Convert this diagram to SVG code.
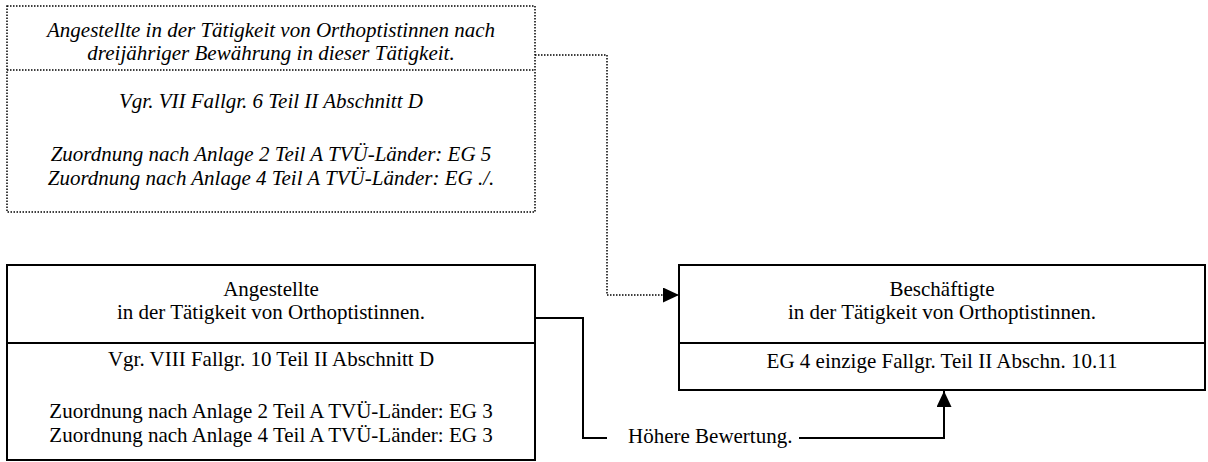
<svg xmlns="http://www.w3.org/2000/svg" width="1208" height="462" viewBox="0 0 1208 462">
<style>
text{font-family:"Liberation Serif","Times New Roman",serif;font-size:21px;fill:#000;text-anchor:middle}
.it{font-style:italic}
.box{fill:#fff;stroke:#000;stroke-width:2}
.dot{fill:none;stroke:#000;stroke-width:1.5;stroke-dasharray:1.5 1.5}
.ln{fill:none;stroke:#000;stroke-width:2}
</style>
<defs>
<marker id="ah" viewBox="0 0 16 15" refX="16" refY="7.5" markerWidth="16" markerHeight="15" markerUnits="userSpaceOnUse" orient="auto">
<path d="M0,0 L16,7.5 L0,15 Z" fill="#000"/>
</marker>
</defs>
<rect width="1208" height="462" fill="#fff"/>
<g id="node-dreijaehrig">
<rect x="7" y="6" width="528" height="206" class="dot"/>
<line x1="7" y1="70" x2="535" y2="70" class="dot"/>
<text class="it" x="271" y="37">Angestellte in der Tätigkeit von Orthoptistinnen nach</text>
<text class="it" x="271" y="60">dreijähriger Bewährung in dieser Tätigkeit.</text>
<text class="it" x="271" y="108">Vgr. VII Fallgr. 6 Teil II Abschnitt D</text>
<text class="it" x="271" y="161">Zuordnung nach Anlage 2 Teil A TVÜ-Länder: EG 5</text>
<text class="it" x="271" y="185">Zuordnung nach Anlage 4 Teil A TVÜ-Länder: EG ./.</text>
</g>
<g id="node-angestellte">
<rect x="7" y="265" width="528" height="195" class="box"/>
<line x1="7" y1="343" x2="535" y2="343" stroke="#000" stroke-width="2"/>
<text x="271" y="296">Angestellte</text>
<text x="271" y="319">in der Tätigkeit von Orthoptistinnen.</text>
<text x="271" y="366">Vgr. VIII Fallgr. 10 Teil II Abschnitt D</text>
<text x="271" y="418">Zuordnung nach Anlage 2 Teil A TVÜ-Länder: EG 3</text>
<text x="271" y="442">Zuordnung nach Anlage 4 Teil A TVÜ-Länder: EG 3</text>
</g>
<g id="node-beschaeftigte">
<rect x="679" y="265" width="526" height="125" class="box"/>
<line x1="679" y1="343" x2="1205" y2="343" stroke="#000" stroke-width="2"/>
<text x="942" y="296">Beschäftigte</text>
<text x="942" y="319">in der Tätigkeit von Orthoptistinnen.</text>
<text x="942" y="368">EG 4 einzige Fallgr. Teil II Abschn. 10.11</text>
</g>
<g id="connectors">
<path d="M535,55 H607 V295 H679" class="dot" marker-end="url(#ah)"/>
<path d="M535,318 H583 V438 H607" class="ln"/>
<path d="M799,438 H944 V391" class="ln" marker-end="url(#ah)"/>
<text x="628" y="443" style="text-anchor:start">Höhere Bewertung.</text>
</g>
</svg>
